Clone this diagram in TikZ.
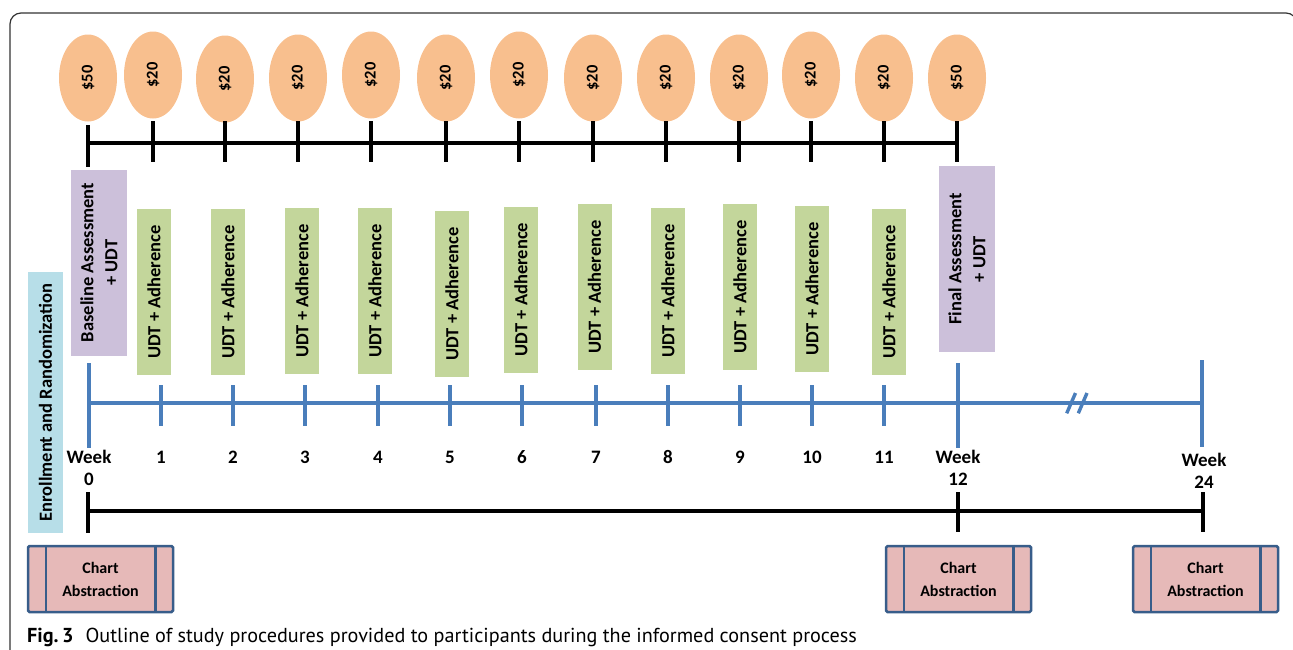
\documentclass[tikz,border=0pt]{standalone}
\usepackage{fontspec}
\setmainfont{Carlito}
\newfontfamily\capfont{PT Sans}
\usetikzlibrary{shapes.geometric}
\definecolor{moneyc}{HTML}{F8BF8E}
\definecolor{greenc}{HTML}{C3D69B}
\definecolor{purplec}{HTML}{CCC0DA}
\definecolor{cyanc}{HTML}{B7DEE8}
\definecolor{pinkc}{HTML}{E6B9B8}
\definecolor{bluec}{HTML}{4A7EBB}
\definecolor{chartb}{HTML}{385D8A}
\begin{document}
\begin{tikzpicture}[x=1pt,y=-1pt,
  money/.style={ellipse, fill=moneyc, minimum width=58, minimum height=87, inner sep=0,
    font=\bfseries\fontsize{16.5}{16.5}\selectfont},
  udt/.style={rotate=90, fill=greenc, minimum width=166, minimum height=34, inner sep=0,
    font=\bfseries\fontsize{18.5}{18.5}\selectfont},
  assess/.style={rotate=90, fill=purplec, minimum width=186, minimum height=56, inner sep=0,
    align=center, font=\bfseries\fontsize{18.5}{24}\selectfont},
  enroll/.style={rotate=90, fill=cyanc, minimum width=261, minimum height=35, inner sep=0,
    font=\bfseries\fontsize{18.5}{18.5}\selectfont},
  chartbox/.style={fill=pinkc, draw=chartb, line width=2.5, rounded corners=1.5,
    minimum width=145, minimum height=66, inner sep=0, align=center,
    font=\bfseries\fontsize{16}{23}\selectfont},
  wk/.style={inner sep=0, align=center, font=\bfseries\fontsize{19}{22}\selectfont},
  blk/.style={line width=3.2, black},
  blu/.style={line width=3.6, bluec},
]
\useasboundingbox (0,0) rectangle (1293,649);
% frame
\begin{scope}
\clip (0,0) rectangle (1293,649);
\draw[line width=1.2, black!80, rounded corners=11] (10,660) -- (10,13) -- (1297,13) -- (1297,660);
\end{scope}

% money ellipses
\foreach \i/\x/\y/\t in {0/88/78/50,1/153/75/20,2/225/79/20,3/298/78/20,4/371/75/20,5/446/78/20,6/519/75/20,7/593/78/20,8/666/78/20,9/739/78/20,10/811/75/20,11/884/78/20,12/957/78/50}{
  \node[money] (m\i) at (\x,\y) {\rotatebox{90}{\$\t}};
  \coordinate (mt\i) at (\x,121);
  \coordinate (mb\i) at (\x,162);
}
\draw[blk] (m0.south |- 0,143) -- (m12.south |- 0,143);
\draw[blk] (88,125) -- (88,167);
\foreach \i in {1,...,12}{ \draw[blk] (mt\i) -- (mb\i); }

% boxes
\node[enroll] (en) at (45.5,402.5) {Enrollment and Randomization};
\node[assess] (ba) at (99,262.5) {Baseline Assessment\\+ UDT};
\node[assess] (fa) at (967,259) {Final Assessment\\+ UDT};
\foreach \i/\x/\y in {1/154/292,2/228/292,3/302/291,4/375/291,5/452/294,6/521/289.5,7/594.5/287,8/668/291,9/740/287,10/812/289,11/889/292}{
  \node[udt] (u\i) at (\x,\y) {UDT + Adherence};
}

% blue timeline
\draw[blu] (89,403) -- (1202,403);
\draw[blu] (89,363) -- (89,448);
\foreach \i/\x in {1/161,2/233,3/305,4/378,5/450,6/522,7/596,8/668,9/740,10/812,11/884}{
  \draw[blu] (\x,385) -- (\x,426);
  \node[wk] (w\i) at (\x,457) {\i};
}
\draw[blu] (958,363) -- (958,448);
\draw[blu] (1202,360) -- (1202,447);
\draw[blu, line width=3.4] (1066.7,413.3) -- (1075.5,393);
\draw[blu, line width=3.4] (1078.3,413.3) -- (1087,393);
\node[wk] (w0) at (89,468) {Week\\0};
\node[wk] (w12) at (958,468) {Week\\12};
\node[wk] (w24) at (1204,471) {Week\\24};

% bottom black timeline
\draw[blk] (88,511) -- (1203,511);
\draw[blk] (88,492) -- (88,533);
\draw[blk] (958,492) -- (958,532);
\draw[blk] (1203,492) -- (1203,532);

% chart abstraction boxes
\foreach \i/\x in {1/100.5,2/958.5,3/1205.5}{
  \node[chartbox] (c\i) at (\x,579) {Chart\\Abstraction};
  \draw[chartb, line width=2.5] ([xshift=19]c\i.north west) -- ([xshift=19]c\i.south west);
  \draw[chartb, line width=2.5] ([xshift=-19]c\i.north east) -- ([xshift=-19]c\i.south east);
}

% caption
\node[anchor=base west, inner sep=0, font=\capfont\fontsize{20.2}{20.2}\selectfont] (cap) at (27,642)
  {\textbf{Fig.\,3}\hspace{0.6em}Outline of study procedures provided to participants during the informed consent process};
\end{tikzpicture}
\end{document}
